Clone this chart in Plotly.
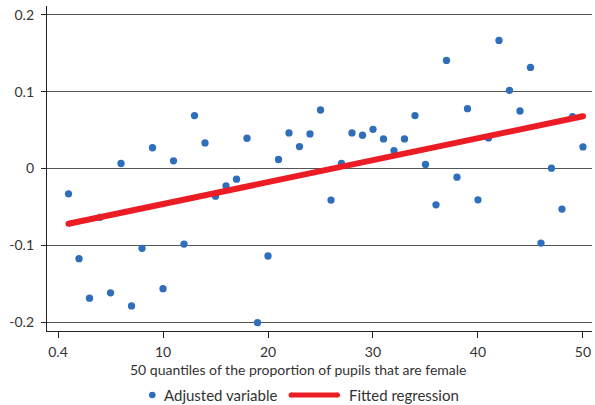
import plotly.graph_objects as go

# Data
quantile = list(range(1, 51))
adjusted = [
    -0.033, -0.1175, -0.169, -0.0636, -0.162, 0.0065, -0.179, -0.104, 0.027, -0.1565,
    0.010, -0.0985, 0.069, 0.0333, -0.036, -0.0226, -0.0139, 0.0394, -0.2008, -0.114,
    0.0117, 0.0463, 0.0286, 0.045, 0.0762, -0.0412, 0.0065, 0.0463, 0.0433, 0.0511,
    0.0385, 0.0234, 0.0385, 0.069, 0.0052, -0.0473, 0.1408, -0.0113, 0.078, -0.0408,
    0.0398, 0.1668, 0.1018, 0.0749, 0.1317, -0.0971, 0.0004, -0.0529, 0.0676, 0.0281,
]
fit_x = [1, 50]
fit_y = [-0.072, 0.068]

x_tickvals = [0, 10, 20, 30, 40, 50]
x_ticktext = ["0.4", "10", "20", "30", "40", "50"]
y_tickvals = [-0.2, -0.1, 0, 0.1, 0.2]
y_ticktext = ["-0.2", "-0.1", "0", "0.1", "0.2"]

x_title = "50 quantiles of the proportion of pupils that are female"
legend_names = ["Adjusted variable", "Fitted regression"]

BLUE = "#2f6eba"
RED = "#ec1c24"
FONT = "Lato"
TXT = "#333333"

# plot area in pixels: x 47..592, y 6..331
W, H = 595, 405
ML, MR, MT, MB = 47, 3, 6, 74
PW, PH = W - ML - MR, H - MT - MB


def px(xpix):
    return (xpix - ML) / PW


def py(ypix):
    return (H - MB - ypix) / PH


fig = go.Figure()
fig.add_trace(go.Scatter(
    x=quantile, y=adjusted, mode="markers", name=legend_names[0],
    marker=dict(color=BLUE, size=7.3, line=dict(width=0)), showlegend=False,
))
fig.add_trace(go.Scatter(
    x=fit_x, y=fit_y, mode="lines+markers", name=legend_names[1],
    line=dict(color=RED, width=6),
    marker=dict(color=RED, size=6, line=dict(width=0)), showlegend=False,
))

leg_y = py(395)
shapes = [
    dict(type="circle", xref="paper", yref="paper", xsizemode="pixel", ysizemode="pixel",
         xanchor=px(152.3), yanchor=leg_y, x0=-3.3, x1=3.3, y0=-3.3, y1=3.3,
         fillcolor=BLUE, line=dict(width=0)),
    dict(type="line", xref="paper", yref="paper", x0=px(291), x1=px(337.5), y0=leg_y, y1=leg_y,
         line=dict(color=RED, width=5)),
    dict(type="circle", xref="paper", yref="paper", xsizemode="pixel", ysizemode="pixel",
         xanchor=px(291), yanchor=leg_y, x0=-2.5, x1=2.5, y0=-2.5, y1=2.5,
         fillcolor=RED, line=dict(width=0)),
    dict(type="circle", xref="paper", yref="paper", xsizemode="pixel", ysizemode="pixel",
         xanchor=px(337.5), yanchor=leg_y, x0=-2.5, x1=2.5, y0=-2.5, y1=2.5,
         fillcolor=RED, line=dict(width=0)),
]
annotations = [
    dict(text=x_title, xref="paper", yref="paper", x=px(298), y=py(369),
         xanchor="center", yanchor="middle", showarrow=False,
         font=dict(family=FONT, size=14, color=TXT)),
    dict(text=legend_names[0], xref="paper", yref="paper", x=px(161.5), y=leg_y,
         xanchor="left", yanchor="middle", showarrow=False,
         font=dict(family=FONT, size=15, color=TXT)),
    dict(text=legend_names[1], xref="paper", yref="paper", x=px(347), y=leg_y,
         xanchor="left", yanchor="middle", showarrow=False,
         font=dict(family=FONT, size=15, color=TXT)),
]

fig.update_layout(
    width=W, height=H,
    margin=dict(l=ML, r=MR, t=MT, b=MB, autoexpand=False),
    plot_bgcolor="white", paper_bgcolor="white",
    font=dict(family=FONT, size=14, color=TXT),
    showlegend=False,
    shapes=shapes,
    annotations=annotations,
)
fig.update_xaxes(
    range=[-1.05, 50.86], tickvals=x_tickvals, ticktext=x_ticktext,
    showline=True, linecolor="#222222", linewidth=1.3,
    ticks="outside", ticklen=6, tickcolor="#222222", tickwidth=1,
    showgrid=False, zeroline=False,
    tickfont=dict(family=FONT, size=14, color=TXT),
    ticklabelstandoff=2,
)
fig.update_yaxes(
    range=[-0.2117, 0.2117], tickvals=y_tickvals, ticktext=y_ticktext,
    showline=True, linecolor="#222222", linewidth=1.3,
    ticks="outside", ticklen=5, tickcolor="#222222", tickwidth=1,
    showgrid=True, gridcolor="#555555", gridwidth=1.2, zeroline=False,
    tickfont=dict(family=FONT, size=14, color=TXT),
    ticklabelstandoff=4,
)

fig.write_html("out.html", config={"displayModeBar": False},
               post_script="document.body.style.margin='0px';")
